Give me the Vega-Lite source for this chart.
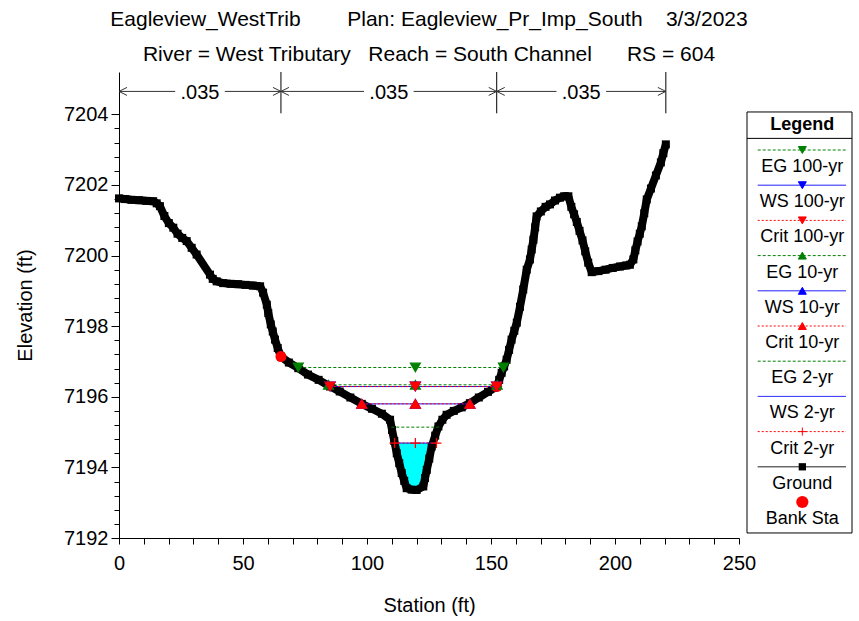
{
  "$schema": "https://vega.github.io/schema/vega-lite/v6.json",
  "width": 620,
  "height": 466,
  "autosize": {"type": "none"},
  "padding": {"left": 119, "top": 72, "right": 120, "bottom": 83},
  "background": "white",
  "title": {
    "text": ["Eagleview_WestTrib\u00a0\u00a0\u00a0\u00a0\u00a0\u00a0\u00a0\u00a0Plan: Eagleview_Pr_Imp_South\u00a0\u00a0\u00a0\u00a03/3/2023", "River = West Tributary\u00a0\u00a0\u00a0Reach = South Channel\u00a0\u00a0\u00a0\u00a0\u00a0\u00a0RS = 604"],
    "fontSize": 21, "fontWeight": "normal", "font": "Liberation Sans", "color": "black",
    "anchor": "middle", "frame": "group", "offset": 7, "lineHeight": 35
  },
  "config": {
    "view": {"stroke": null},
    "font": "Liberation Sans",
    "axis": {"labelFont": "Liberation Sans", "titleFont": "Liberation Sans", "labelColor": "#000", "titleColor": "#000", "domainColor": "#000", "tickColor": "#000", "grid": false}
  },
  "datasets": {
    "ground": [
      {"station": 0, "elev": 7201.62}, {"station": 2.5, "elev": 7201.60}, {"station": 5, "elev": 7201.58}, {"station": 8, "elev": 7201.57},
      {"station": 11, "elev": 7201.55}, {"station": 13.8, "elev": 7201.54}, {"station": 15.2, "elev": 7201.48}, {"station": 16.5, "elev": 7201.40},
      {"station": 18.3, "elev": 7201.12}, {"station": 20.1, "elev": 7200.92}, {"station": 21.9, "elev": 7200.79}, {"station": 23.6, "elev": 7200.62},
      {"station": 25.5, "elev": 7200.50}, {"station": 27.3, "elev": 7200.41}, {"station": 29.3, "elev": 7200.22}, {"station": 31.3, "elev": 7200.03},
      {"station": 36.7, "elev": 7199.46}, {"station": 37.8, "elev": 7199.34}, {"station": 39.4, "elev": 7199.27}, {"station": 42, "elev": 7199.22},
      {"station": 45, "elev": 7199.20}, {"station": 48, "elev": 7199.19}, {"station": 51, "elev": 7199.17}, {"station": 54, "elev": 7199.15},
      {"station": 56.9, "elev": 7199.13}, {"station": 58.1, "elev": 7198.95}, {"station": 59.6, "elev": 7198.61}, {"station": 60.2, "elev": 7198.37},
      {"station": 61.2, "elev": 7198.05}, {"station": 62, "elev": 7197.85}, {"station": 62.9, "elev": 7197.62}, {"station": 64, "elev": 7197.38},
      {"station": 65.3, "elev": 7197.14}, {"station": 68.5, "elev": 7196.97}, {"station": 72.3, "elev": 7196.81}, {"station": 76.2, "elev": 7196.63},
      {"station": 80.5, "elev": 7196.48}, {"station": 85.1, "elev": 7196.29}, {"station": 89, "elev": 7196.15}, {"station": 93.3, "elev": 7195.98},
      {"station": 97.9, "elev": 7195.80}, {"station": 102, "elev": 7195.66}, {"station": 106, "elev": 7195.52}, {"station": 109.3, "elev": 7195.35},
      {"station": 110.1, "elev": 7195.06}, {"station": 111, "elev": 7194.75}, {"station": 112, "elev": 7194.40}, {"station": 113, "elev": 7194.12},
      {"station": 114, "elev": 7193.84}, {"station": 115, "elev": 7193.62}, {"station": 116, "elev": 7193.41}, {"station": 118, "elev": 7193.37},
      {"station": 120, "elev": 7193.36}, {"station": 122.7, "elev": 7193.46}, {"station": 123.4, "elev": 7193.70}, {"station": 124.1, "elev": 7193.93},
      {"station": 125.1, "elev": 7194.25}, {"station": 126.1, "elev": 7194.59}, {"station": 127.5, "elev": 7194.90}, {"station": 128.8, "elev": 7195.16},
      {"station": 130.4, "elev": 7195.35}, {"station": 132.1, "elev": 7195.49}, {"station": 135, "elev": 7195.60}, {"station": 138.2, "elev": 7195.70},
      {"station": 141.5, "elev": 7195.82}, {"station": 145.1, "elev": 7195.98}, {"station": 148.8, "elev": 7196.14}, {"station": 152.3, "elev": 7196.29},
      {"station": 153.3, "elev": 7196.48}, {"station": 154.3, "elev": 7196.68}, {"station": 155.3, "elev": 7196.86}, {"station": 156.3, "elev": 7197.05},
      {"station": 157.3, "elev": 7197.33}, {"station": 158.3, "elev": 7197.62}, {"station": 159.4, "elev": 7197.87}, {"station": 160.4, "elev": 7198.10},
      {"station": 161.7, "elev": 7198.55}, {"station": 163, "elev": 7199.04}, {"station": 164.4, "elev": 7199.60}, {"station": 165.7, "elev": 7199.89},
      {"station": 166.4, "elev": 7200.17}, {"station": 167.1, "elev": 7200.45}, {"station": 167.8, "elev": 7200.80}, {"station": 168.4, "elev": 7201.11},
      {"station": 170.1, "elev": 7201.25}, {"station": 172, "elev": 7201.38}, {"station": 173.8, "elev": 7201.45}, {"station": 175.8, "elev": 7201.56},
      {"station": 177.8, "elev": 7201.64}, {"station": 179.5, "elev": 7201.68}, {"station": 181.2, "elev": 7201.68}, {"station": 182.4, "elev": 7201.38},
      {"station": 183.5, "elev": 7201.17}, {"station": 184.6, "elev": 7200.95}, {"station": 185.7, "elev": 7200.70}, {"station": 186.9, "elev": 7200.43},
      {"station": 188, "elev": 7200.12}, {"station": 189.2, "elev": 7199.80}, {"station": 190.6, "elev": 7199.53}, {"station": 193.3, "elev": 7199.56},
      {"station": 196.2, "elev": 7199.60}, {"station": 199.1, "elev": 7199.65}, {"station": 202, "elev": 7199.69}, {"station": 204.5, "elev": 7199.72},
      {"station": 206, "elev": 7199.74}, {"station": 207.4, "elev": 7199.89}, {"station": 208.2, "elev": 7200.15}, {"station": 209.1, "elev": 7200.40},
      {"station": 210, "elev": 7200.62}, {"station": 210.8, "elev": 7200.83}, {"station": 211.8, "elev": 7201.20}, {"station": 212.8, "elev": 7201.59},
      {"station": 214.5, "elev": 7201.90}, {"station": 216.5, "elev": 7202.27}, {"station": 218.5, "elev": 7202.64}, {"station": 219.5, "elev": 7202.90},
      {"station": 220.5, "elev": 7203.15}
    ],
    "water": [
      {"station": 111.3, "elev": 7194.69}, {"station": 112, "elev": 7194.40}, {"station": 113, "elev": 7194.12}, {"station": 114, "elev": 7193.84},
      {"station": 115, "elev": 7193.62}, {"station": 116, "elev": 7193.41}, {"station": 118, "elev": 7193.37}, {"station": 120, "elev": 7193.36},
      {"station": 122.7, "elev": 7193.46}, {"station": 123.4, "elev": 7193.70}, {"station": 124.1, "elev": 7193.93}, {"station": 125.1, "elev": 7194.25},
      {"station": 126.4, "elev": 7194.69}
    ],
    "bank": [
      {"station": 65.3, "elev": 7197.14}, {"station": 152.3, "elev": 7196.29}
    ],
    "wsel": [
      {"series": "EG 2-yr", "station": 109.8, "elev": 7195.14}, {"series": "EG 2-yr", "station": 119.5, "elev": 7195.14}, {"series": "EG 2-yr", "station": 129.4, "elev": 7195.14},
      {"series": "WS 2-yr", "station": 111.1, "elev": 7194.69}, {"series": "WS 2-yr", "station": 119.5, "elev": 7194.69}, {"series": "WS 2-yr", "station": 128.0, "elev": 7194.69},
      {"series": "Crit 2-yr", "station": 111.1, "elev": 7194.69}, {"series": "Crit 2-yr", "station": 119.5, "elev": 7194.69}, {"series": "Crit 2-yr", "station": 128.0, "elev": 7194.69},
      {"series": "EG 10-yr", "station": 84.5, "elev": 7196.34}, {"series": "EG 10-yr", "station": 119.5, "elev": 7196.34}, {"series": "EG 10-yr", "station": 152.5, "elev": 7196.34},
      {"series": "WS 10-yr", "station": 97.9, "elev": 7195.80}, {"series": "WS 10-yr", "station": 119.5, "elev": 7195.80}, {"series": "WS 10-yr", "station": 141.5, "elev": 7195.80},
      {"series": "Crit 10-yr", "station": 97.9, "elev": 7195.80}, {"series": "Crit 10-yr", "station": 119.5, "elev": 7195.80}, {"series": "Crit 10-yr", "station": 141.5, "elev": 7195.80},
      {"series": "EG 100-yr", "station": 72.3, "elev": 7196.83}, {"series": "EG 100-yr", "station": 119.5, "elev": 7196.83}, {"series": "EG 100-yr", "station": 155.0, "elev": 7196.83},
      {"series": "WS 100-yr", "station": 85.1, "elev": 7196.29}, {"series": "WS 100-yr", "station": 119.5, "elev": 7196.29}, {"series": "WS 100-yr", "station": 152.3, "elev": 7196.29},
      {"series": "Crit 100-yr", "station": 85.1, "elev": 7196.29}, {"series": "Crit 100-yr", "station": 119.5, "elev": 7196.29}, {"series": "Crit 100-yr", "station": 152.3, "elev": 7196.29}
    ],
    "nvalues": [
      {"start": 0, "end": 65.3, "n": ".035"},
      {"start": 65.3, "end": 152.3, "n": ".035"},
      {"start": 152.3, "end": 220.5, "n": ".035"}
    ],
    "legend": [
      {"series": "EG 100-yr", "order": 0}, {"series": "WS 100-yr", "order": 1}, {"series": "Crit 100-yr", "order": 2},
      {"series": "EG 10-yr", "order": 3}, {"series": "WS 10-yr", "order": 4}, {"series": "Crit 10-yr", "order": 5},
      {"series": "EG 2-yr", "order": 6}, {"series": "WS 2-yr", "order": 7}, {"series": "Crit 2-yr", "order": 8},
      {"series": "Ground", "order": 9}, {"series": "Bank Sta", "order": 10}
    ],
    "legendHeader": [{"label": "Legend"}]
  },
  "layer": [
    {
      "data": {"name": "water"},
      "mark": {"type": "area", "color": "#00ffff"},
      "encoding": {
        "x": {"field": "station", "type": "quantitative", "scale": {"domain": [0, 250], "nice": false, "zero": false},
          "axis": {"orient": "bottom", "values": [0, 10, 20, 30, 40, 50, 60, 70, 80, 90, 100, 110, 120, 130, 140, 150, 160, 170, 180, 190, 200, 210, 220, 230, 240, 250],
            "format": "d", "labelExpr": "datum.value % 50 === 0 ? datum.label : ''", "tickSize": 6, "labelPadding": 9, "labelFontSize": 20,
            "labelFlush": false, "labelOverlap": false, "title": "Station (ft)", "titleFontSize": 20, "titleFontWeight": "normal", "titlePadding": 22}},
        "y": {"field": "elev", "type": "quantitative", "scale": {"domain": [7192, 7205.2], "nice": false, "zero": false},
          "axis": {"orient": "left", "values": [7192, 7194, 7196, 7198, 7200, 7202, 7204], "format": "d", "tickSize": 8, "labelPadding": 3,
            "labelFontSize": 20, "labelFlush": false, "labelOverlap": false, "title": "Elevation (ft)", "titleFontSize": 20,
            "titleFontWeight": "normal", "titlePadding": 28}},
        "y2": {"datum": 7194.69}
      }
    },
    {
      "data": {"name": "ground"},
      "mark": {"type": "line", "color": "black", "strokeWidth": 8, "strokeJoin": "bevel"},
      "encoding": {
        "x": {"field": "station", "type": "quantitative", "scale": {"domain": [0, 250], "nice": false, "zero": false}, "axis": null},
        "y": {"field": "elev", "type": "quantitative", "scale": {"domain": [7192, 7205.2], "nice": false, "zero": false},
          "axis": {"orient": "left", "values": [7192, 7192.4, 7192.8, 7193.2, 7193.6, 7194, 7194.4, 7194.8, 7195.2, 7195.6, 7196, 7196.4, 7196.8, 7197.2, 7197.6, 7198, 7198.4, 7198.8, 7199.2, 7199.6, 7200, 7200.4, 7200.8, 7201.2, 7201.6, 7202, 7202.4, 7202.8, 7203.2, 7203.6, 7204],
            "tickSize": 5, "labels": false, "domain": false, "title": null}}
      }
    },
    {
      "data": {"name": "ground"},
      "mark": {"type": "point", "shape": "square", "filled": true, "color": "black", "size": 64, "opacity": 1},
      "encoding": {
        "x": {"field": "station", "type": "quantitative", "scale": {"domain": [0, 250], "nice": false, "zero": false}, "axis": null},
        "y": {"field": "elev", "type": "quantitative", "scale": {"domain": [7192, 7205.2], "nice": false, "zero": false}, "axis": null}
      }
    },
    {
      "data": {"name": "bank"},
      "mark": {"type": "point", "shape": "circle", "filled": true, "color": "#ff0000", "size": 120, "opacity": 1},
      "encoding": {
        "x": {"field": "station", "type": "quantitative", "scale": {"domain": [0, 250], "nice": false, "zero": false}, "axis": null},
        "y": {"field": "elev", "type": "quantitative", "scale": {"domain": [7192, 7205.2], "nice": false, "zero": false}, "axis": null}
      }
    },
    {
      "data": {"name": "wsel"},
      "transform": [{"filter": "indexof(datum.series, 'EG') === 0"}],
      "mark": {"type": "line", "strokeWidth": 1},
      "encoding": {
        "x": {"field": "station", "type": "quantitative", "scale": {"domain": [0, 250], "nice": false, "zero": false}, "axis": null},
        "y": {"field": "elev", "type": "quantitative", "scale": {"domain": [7192, 7205.2], "nice": false, "zero": false}, "axis": null},
        "color": {"field": "series", "type": "nominal", "legend": null,
          "scale": {"domain": ["EG 100-yr", "WS 100-yr", "Crit 100-yr", "EG 10-yr", "WS 10-yr", "Crit 10-yr", "EG 2-yr", "WS 2-yr", "Crit 2-yr", "Ground", "Bank Sta"],
            "range": ["#008000", "#0000ff", "#ff0000", "#008000", "#0000ff", "#ff0000", "#008000", "#0000ff", "#ff0000", "#000000", "#ff0000"]}},
        "strokeDash": {"field": "series", "type": "nominal", "legend": null,
          "scale": {"domain": ["EG 100-yr", "WS 100-yr", "Crit 100-yr", "EG 10-yr", "WS 10-yr", "Crit 10-yr", "EG 2-yr", "WS 2-yr", "Crit 2-yr", "Ground", "Bank Sta"],
            "range": [[3, 2], [1, 0], [2, 2], [3, 2], [1, 0], [2, 2], [3, 2], [1, 0], [2, 2], [1, 0], [1, 0]]}}
      }
    },
    {
      "data": {"name": "wsel"},
      "transform": [{"filter": "indexof(datum.series, 'WS') === 0"}],
      "mark": {"type": "line", "strokeWidth": 1},
      "encoding": {
        "x": {"field": "station", "type": "quantitative", "scale": {"domain": [0, 250], "nice": false, "zero": false}, "axis": null},
        "y": {"field": "elev", "type": "quantitative", "scale": {"domain": [7192, 7205.2], "nice": false, "zero": false}, "axis": null},
        "color": {"field": "series", "type": "nominal", "legend": null,
          "scale": {"domain": ["EG 100-yr", "WS 100-yr", "Crit 100-yr", "EG 10-yr", "WS 10-yr", "Crit 10-yr", "EG 2-yr", "WS 2-yr", "Crit 2-yr", "Ground", "Bank Sta"],
            "range": ["#008000", "#0000ff", "#ff0000", "#008000", "#0000ff", "#ff0000", "#008000", "#0000ff", "#ff0000", "#000000", "#ff0000"]}},
        "strokeDash": {"field": "series", "type": "nominal", "legend": null,
          "scale": {"domain": ["EG 100-yr", "WS 100-yr", "Crit 100-yr", "EG 10-yr", "WS 10-yr", "Crit 10-yr", "EG 2-yr", "WS 2-yr", "Crit 2-yr", "Ground", "Bank Sta"],
            "range": [[3, 2], [1, 0], [2, 2], [3, 2], [1, 0], [2, 2], [3, 2], [1, 0], [2, 2], [1, 0], [1, 0]]}}
      }
    },
    {
      "data": {"name": "wsel"},
      "transform": [{"filter": "indexof(datum.series, 'Crit') === 0"}],
      "mark": {"type": "line", "strokeWidth": 1},
      "encoding": {
        "x": {"field": "station", "type": "quantitative", "scale": {"domain": [0, 250], "nice": false, "zero": false}, "axis": null},
        "y": {"field": "elev", "type": "quantitative", "scale": {"domain": [7192, 7205.2], "nice": false, "zero": false}, "axis": null},
        "color": {"field": "series", "type": "nominal", "legend": null,
          "scale": {"domain": ["EG 100-yr", "WS 100-yr", "Crit 100-yr", "EG 10-yr", "WS 10-yr", "Crit 10-yr", "EG 2-yr", "WS 2-yr", "Crit 2-yr", "Ground", "Bank Sta"],
            "range": ["#008000", "#0000ff", "#ff0000", "#008000", "#0000ff", "#ff0000", "#008000", "#0000ff", "#ff0000", "#000000", "#ff0000"]}},
        "strokeDash": {"field": "series", "type": "nominal", "legend": null,
          "scale": {"domain": ["EG 100-yr", "WS 100-yr", "Crit 100-yr", "EG 10-yr", "WS 10-yr", "Crit 10-yr", "EG 2-yr", "WS 2-yr", "Crit 2-yr", "Ground", "Bank Sta"],
            "range": [[3, 2], [1, 0], [2, 2], [3, 2], [1, 0], [2, 2], [3, 2], [1, 0], [2, 2], [1, 0], [1, 0]]}}
      }
    },
    {
      "data": {"name": "wsel"},
      "transform": [{"filter": "datum.series !== 'EG 2-yr' && datum.series !== 'WS 2-yr'"}],
      "mark": {"type": "point", "filled": true, "size": 100, "strokeWidth": 1.2, "opacity": 1},
      "encoding": {
        "x": {"field": "station", "type": "quantitative", "scale": {"domain": [0, 250], "nice": false, "zero": false}, "axis": null},
        "y": {"field": "elev", "type": "quantitative", "scale": {"domain": [7192, 7205.2], "nice": false, "zero": false}, "axis": null},
        "shape": {"field": "series", "type": "nominal", "legend": null,
          "scale": {"domain": ["EG 100-yr", "WS 100-yr", "Crit 100-yr", "EG 10-yr", "WS 10-yr", "Crit 10-yr", "EG 2-yr", "WS 2-yr", "Crit 2-yr", "Ground", "Bank Sta"],
            "range": ["triangle-down", "triangle-down", "triangle-down", "triangle-up", "triangle-up", "triangle-up", "circle", "circle", "M-1,0L1,0M0,-1L0,1", "square", "circle"]}},
        "fill": {"field": "series", "type": "nominal", "legend": null,
          "scale": {"domain": ["EG 100-yr", "WS 100-yr", "Crit 100-yr", "EG 10-yr", "WS 10-yr", "Crit 10-yr", "EG 2-yr", "WS 2-yr", "Crit 2-yr", "Ground", "Bank Sta"],
            "range": ["#008000", "#0000ff", "#ff0000", "#008000", "#0000ff", "#ff0000", "#008000", "#0000ff", "#ff0000", "#000000", "#ff0000"]}},
        "stroke": {"field": "series", "type": "nominal", "legend": null,
          "scale": {"domain": ["EG 100-yr", "WS 100-yr", "Crit 100-yr", "EG 10-yr", "WS 10-yr", "Crit 10-yr", "EG 2-yr", "WS 2-yr", "Crit 2-yr", "Ground", "Bank Sta"],
            "range": ["#008000", "#0000ff", "#ff0000", "#008000", "#0000ff", "#ff0000", "#008000", "#0000ff", "#ff0000", "#000000", "#ff0000"]}}
      }
    },
    {
      "data": {"name": "nvalues"},
      "mark": {"type": "rule", "color": "black", "strokeWidth": 1},
      "encoding": {
        "x": {"field": "end", "type": "quantitative", "scale": {"domain": [0, 250], "nice": false, "zero": false}, "axis": null},
        "y": {"datum": 7204.03, "type": "quantitative", "scale": {"domain": [7192, 7205.2], "nice": false, "zero": false}, "axis": null},
        "y2": {"datum": 7205.2}
      }
    },
    {
      "data": {"name": "nvalues"},
      "transform": [{"calculate": "(datum.start + datum.end) / 2 - 10", "as": "gapLeft"}],
      "mark": {"type": "rule", "color": "#333333", "strokeWidth": 1},
      "encoding": {
        "x": {"field": "start", "type": "quantitative", "scale": {"domain": [0, 250], "nice": false, "zero": false}, "axis": null},
        "x2": {"field": "gapLeft"},
        "y": {"datum": 7204.65, "type": "quantitative", "scale": {"domain": [7192, 7205.2], "nice": false, "zero": false}, "axis": null}
      }
    },
    {
      "data": {"name": "nvalues"},
      "transform": [{"calculate": "(datum.start + datum.end) / 2 + 10", "as": "gapRight"}],
      "mark": {"type": "rule", "color": "#333333", "strokeWidth": 1},
      "encoding": {
        "x": {"field": "gapRight", "type": "quantitative", "scale": {"domain": [0, 250], "nice": false, "zero": false}, "axis": null},
        "x2": {"field": "end"},
        "y": {"datum": 7204.65, "type": "quantitative", "scale": {"domain": [7192, 7205.2], "nice": false, "zero": false}, "axis": null}
      }
    },
    {
      "data": {"name": "nvalues"},
      "mark": {"type": "point", "shape": "M2,-1L0,0L2,1", "filled": false, "stroke": "#333333", "strokeWidth": 1, "size": 64, "opacity": 1},
      "encoding": {
        "x": {"field": "start", "type": "quantitative", "scale": {"domain": [0, 250], "nice": false, "zero": false}, "axis": null},
        "y": {"datum": 7204.65, "type": "quantitative", "scale": {"domain": [7192, 7205.2], "nice": false, "zero": false}, "axis": null}
      }
    },
    {
      "data": {"name": "nvalues"},
      "mark": {"type": "point", "shape": "M-2,-1L0,0L-2,1", "filled": false, "stroke": "#333333", "strokeWidth": 1, "size": 64, "opacity": 1},
      "encoding": {
        "x": {"field": "end", "type": "quantitative", "scale": {"domain": [0, 250], "nice": false, "zero": false}, "axis": null},
        "y": {"datum": 7204.65, "type": "quantitative", "scale": {"domain": [7192, 7205.2], "nice": false, "zero": false}, "axis": null}
      }
    },
    {
      "data": {"name": "nvalues"},
      "transform": [{"calculate": "(datum.start + datum.end) / 2", "as": "mid"}],
      "mark": {"type": "text", "fontSize": 20, "color": "black", "baseline": "middle", "align": "center", "dy": 2},
      "encoding": {
        "x": {"field": "mid", "type": "quantitative", "scale": {"domain": [0, 250], "nice": false, "zero": false}, "axis": null},
        "y": {"datum": 7204.65, "type": "quantitative", "scale": {"domain": [7192, 7205.2], "nice": false, "zero": false}, "axis": null},
        "text": {"field": "n"}
      }
    },
    {
      "data": {"name": "legendHeader"},
      "mark": {"type": "rect", "fill": "white", "stroke": "black", "strokeWidth": 1},
      "encoding": {
        "x": {"datum": 0, "type": "quantitative", "scale": {"domain": [0, 1], "range": [628, 733]}, "axis": null},
        "x2": {"datum": 1},
        "y": {"datum": -1.08, "type": "quantitative", "scale": {"domain": [0, 10], "range": [78, 430]}, "axis": null},
        "y2": {"datum": 10.88}
      }
    },
    {
      "data": {"name": "legendHeader"},
      "mark": {"type": "rule", "color": "black", "strokeWidth": 1},
      "encoding": {
        "x": {"datum": 0, "type": "quantitative", "scale": {"domain": [0, 1], "range": [628, 733]}, "axis": null},
        "x2": {"datum": 1},
        "y": {"datum": -0.33, "type": "quantitative", "scale": {"domain": [0, 10], "range": [78, 430]}, "axis": null}
      }
    },
    {
      "data": {"name": "legendHeader"},
      "mark": {"type": "text", "fontSize": 18, "fontWeight": "bold", "color": "black", "baseline": "middle", "align": "center"},
      "encoding": {
        "x": {"datum": 0.527, "type": "quantitative", "scale": {"domain": [0, 1], "range": [628, 733]}, "axis": null},
        "y": {"datum": -0.71, "type": "quantitative", "scale": {"domain": [0, 10], "range": [78, 430]}, "axis": null},
        "text": {"field": "label"}
      }
    },
    {
      "data": {"name": "legend"},
      "transform": [{"filter": "datum.series !== 'Bank Sta'"}],
      "mark": {"type": "rule", "strokeWidth": 1},
      "encoding": {
        "x": {"datum": 0.102, "type": "quantitative", "scale": {"domain": [0, 1], "range": [628, 733]}, "axis": null},
        "x2": {"datum": 0.943},
        "y": {"field": "order", "type": "quantitative", "scale": {"domain": [0, 10], "range": [78, 430]}, "axis": null},
        "color": {"field": "series", "type": "nominal", "legend": null,
          "scale": {"domain": ["EG 100-yr", "WS 100-yr", "Crit 100-yr", "EG 10-yr", "WS 10-yr", "Crit 10-yr", "EG 2-yr", "WS 2-yr", "Crit 2-yr", "Ground", "Bank Sta"],
            "range": ["#008000", "#0000ff", "#ff0000", "#008000", "#0000ff", "#ff0000", "#008000", "#0000ff", "#ff0000", "#000000", "#ff0000"]}},
        "strokeDash": {"field": "series", "type": "nominal", "legend": null,
          "scale": {"domain": ["EG 100-yr", "WS 100-yr", "Crit 100-yr", "EG 10-yr", "WS 10-yr", "Crit 10-yr", "EG 2-yr", "WS 2-yr", "Crit 2-yr", "Ground", "Bank Sta"],
            "range": [[3, 2], [1, 0], [2, 2], [3, 2], [1, 0], [2, 2], [3, 2], [1, 0], [2, 2], [1, 0], [1, 0]]}}
      }
    },
    {
      "data": {"name": "legend"},
      "transform": [{"filter": "datum.series !== 'EG 2-yr' && datum.series !== 'WS 2-yr' && datum.series !== 'Ground' && datum.series !== 'Bank Sta'"}],
      "mark": {"type": "point", "filled": true, "size": 64, "strokeWidth": 1, "opacity": 1},
      "encoding": {
        "x": {"datum": 0.527, "type": "quantitative", "scale": {"domain": [0, 1], "range": [628, 733]}, "axis": null},
        "y": {"field": "order", "type": "quantitative", "scale": {"domain": [0, 10], "range": [78, 430]}, "axis": null},
        "shape": {"field": "series", "type": "nominal", "legend": null,
          "scale": {"domain": ["EG 100-yr", "WS 100-yr", "Crit 100-yr", "EG 10-yr", "WS 10-yr", "Crit 10-yr", "EG 2-yr", "WS 2-yr", "Crit 2-yr", "Ground", "Bank Sta"],
            "range": ["triangle-down", "triangle-down", "triangle-down", "triangle-up", "triangle-up", "triangle-up", "circle", "circle", "M-1,0L1,0M0,-1L0,1", "square", "circle"]}},
        "fill": {"field": "series", "type": "nominal", "legend": null,
          "scale": {"domain": ["EG 100-yr", "WS 100-yr", "Crit 100-yr", "EG 10-yr", "WS 10-yr", "Crit 10-yr", "EG 2-yr", "WS 2-yr", "Crit 2-yr", "Ground", "Bank Sta"],
            "range": ["#008000", "#0000ff", "#ff0000", "#008000", "#0000ff", "#ff0000", "#008000", "#0000ff", "#ff0000", "#000000", "#ff0000"]}},
        "stroke": {"field": "series", "type": "nominal", "legend": null,
          "scale": {"domain": ["EG 100-yr", "WS 100-yr", "Crit 100-yr", "EG 10-yr", "WS 10-yr", "Crit 10-yr", "EG 2-yr", "WS 2-yr", "Crit 2-yr", "Ground", "Bank Sta"],
            "range": ["#008000", "#0000ff", "#ff0000", "#008000", "#0000ff", "#ff0000", "#008000", "#0000ff", "#ff0000", "#000000", "#ff0000"]}}
      }
    },
    {
      "data": {"name": "legend"},
      "transform": [{"filter": "datum.series === 'Ground'"}],
      "mark": {"type": "point", "shape": "square", "filled": true, "color": "black", "size": 53, "opacity": 1},
      "encoding": {
        "x": {"datum": 0.527, "type": "quantitative", "scale": {"domain": [0, 1], "range": [628, 733]}, "axis": null},
        "y": {"field": "order", "type": "quantitative", "scale": {"domain": [0, 10], "range": [78, 430]}, "axis": null}
      }
    },
    {
      "data": {"name": "legend"},
      "transform": [{"filter": "datum.series === 'Bank Sta'"}],
      "mark": {"type": "point", "shape": "circle", "filled": true, "color": "#ff0000", "size": 150, "opacity": 1},
      "encoding": {
        "x": {"datum": 0.527, "type": "quantitative", "scale": {"domain": [0, 1], "range": [628, 733]}, "axis": null},
        "y": {"field": "order", "type": "quantitative", "scale": {"domain": [0, 10], "range": [78, 430]}, "axis": null}
      }
    },
    {
      "data": {"name": "legend"},
      "mark": {"type": "text", "fontSize": 18, "color": "black", "baseline": "middle", "align": "center", "dy": 17},
      "encoding": {
        "x": {"datum": 0.527, "type": "quantitative", "scale": {"domain": [0, 1], "range": [628, 733]}, "axis": null},
        "y": {"field": "order", "type": "quantitative", "scale": {"domain": [0, 10], "range": [78, 430]}, "axis": null},
        "text": {"field": "series"}
      }
    }
  ],
  "resolve": {"scale": {"x": "independent", "y": "independent"}}
}
